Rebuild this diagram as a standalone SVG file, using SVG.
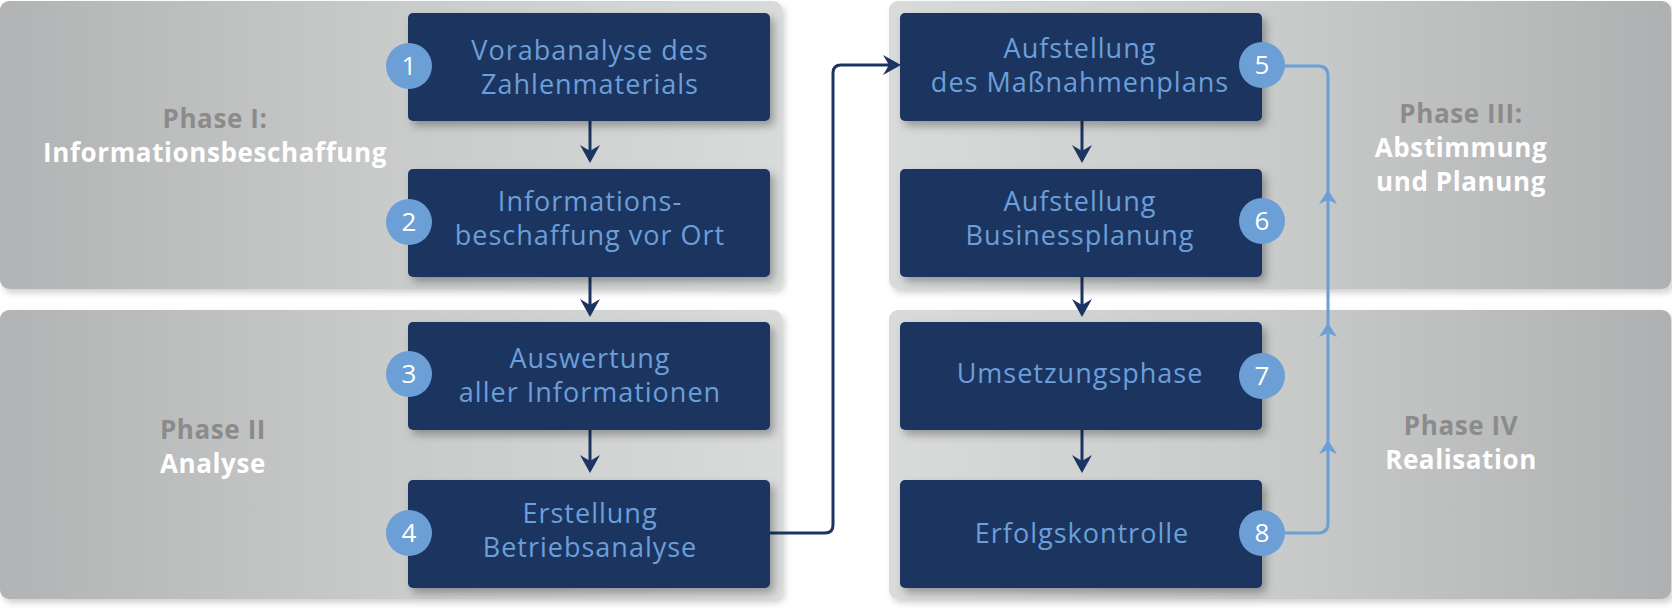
<svg xmlns="http://www.w3.org/2000/svg" width="1672" height="611" viewBox="0 0 1672 611">
<defs>
<linearGradient id="gL" x1="0" y1="0" x2="1" y2="0">
<stop offset="0" stop-color="#b2b3b4"/>
<stop offset="0.5" stop-color="#c9caca"/>
<stop offset="1" stop-color="#d9dada"/>
</linearGradient>
<linearGradient id="gR" x1="0" y1="0" x2="1" y2="0">
<stop offset="0" stop-color="#d9dada"/>
<stop offset="0.5" stop-color="#c9caca"/>
<stop offset="1" stop-color="#afb0b1"/>
</linearGradient>
<filter id="sh" x="-10%" y="-20%" width="130%" height="150%">
<feDropShadow dx="4" dy="5" stdDeviation="4" flood-color="#000" flood-opacity="0.3"/>
</filter>
<filter id="shl" x="-20%" y="-20%" width="140%" height="140%">
<feDropShadow dx="3" dy="4" stdDeviation="3" flood-color="#000" flood-opacity="0.18"/>
</filter>
<marker id="ah" markerUnits="userSpaceOnUse" markerWidth="30" markerHeight="30" refX="0" refY="0" orient="auto" overflow="visible">
<path d="M8,0 L-10,-10 L-4,0 L-10,10 Z" fill="#1c3461"/>
</marker>
<path id="bup" d="M0,0 L-9,14 L0,10 L9,14 Z"/>
</defs>
<style>
.panel{filter:url(#shl)}
.box{fill:#1c3461;filter:url(#sh)}
.btxt{font-family:"Open Sans","Noto Sans",sans-serif;font-size:27px;fill:#6b9fd9;text-anchor:middle;letter-spacing:1px}
.circ{fill:#6b9fd6}
.num{font-family:"Open Sans","Noto Sans",sans-serif;font-size:26px;fill:#ffffff;text-anchor:middle}
.ph{font-family:"Open Sans","Noto Sans",sans-serif;font-size:26px;font-weight:bold;text-anchor:middle;letter-spacing:0.6px}
.pg{fill:#8b8b8b}
.pw{fill:#ffffff}
.con{fill:none;stroke:#1c3461;stroke-width:3;marker-end:url(#ah)}
.blue{fill:none;stroke:#6b9fd8;stroke-width:3}
.bah{fill:#6b9fd8}
</style>

<g id="phase1">
<rect class="panel" x="0" y="1" width="782" height="288" rx="9" fill="url(#gL)"/>
<text class="ph pg" x="215" y="128">Phase I:</text>
<text class="ph pw" x="215" y="162">Informationsbeschaffung</text>
</g>
<g id="phase2">
<rect class="panel" x="0" y="310" width="782" height="289" rx="9" fill="url(#gL)"/>
<text class="ph pg" x="213" y="439">Phase II</text>
<text class="ph pw" x="213" y="473">Analyse</text>
</g>
<g id="phase3">
<rect class="panel" x="889" y="1" width="782" height="288" rx="9" fill="url(#gR)"/>
<text class="ph pg" x="1461" y="123">Phase III:</text>
<text class="ph pw" x="1461" y="157">Abstimmung</text>
<text class="ph pw" x="1461" y="191">und Planung</text>
</g>
<g id="phase4">
<rect class="panel" x="889" y="310" width="782" height="289" rx="9" fill="url(#gR)"/>
<text class="ph pg" x="1461" y="435">Phase IV</text>
<text class="ph pw" x="1461" y="469">Realisation</text>
</g>

<g id="connectors">
<path class="con" d="M590,121 V155"/>
<path class="con" d="M590,277 V309"/>
<path class="con" d="M590,430 V465"/>
<path class="con" d="M770,533 H825 Q833,533 833,525 V73 Q833,65 841,65 H893"/>
<path class="con" d="M1082,121 V155"/>
<path class="con" d="M1082,277 V309"/>
<path class="con" d="M1082,430 V465"/>
<path class="blue" d="M1262,533 H1318 Q1328,533 1328,523 V76 Q1328,66 1318,66 H1262"/>
<use href="#bup" class="bah" x="1328" y="190"/>
<use href="#bup" class="bah" x="1328" y="323"/>
<use href="#bup" class="bah" x="1328" y="440"/>
</g>

<g id="n1">
<rect class="box" x="408" y="13" width="362" height="108" rx="5"/>
<text class="btxt" x="590" y="60">Vorabanalyse des</text>
<text class="btxt" x="590" y="94">Zahlenmaterials</text>
<circle class="circ" cx="409" cy="66" r="23"/>
<text class="num" x="409" y="75">1</text>
</g>
<g id="n2">
<rect class="box" x="408" y="169" width="362" height="108" rx="5"/>
<text class="btxt" x="590" y="211">Informations-</text>
<text class="btxt" x="590" y="245">beschaffung vor Ort</text>
<circle class="circ" cx="409" cy="222" r="23"/>
<text class="num" x="409" y="231">2</text>
</g>
<g id="n3">
<rect class="box" x="408" y="322" width="362" height="108" rx="5"/>
<text class="btxt" x="590" y="368">Auswertung</text>
<text class="btxt" x="590" y="402">aller Informationen</text>
<circle class="circ" cx="409" cy="374" r="23"/>
<text class="num" x="409" y="383">3</text>
</g>
<g id="n4">
<rect class="box" x="408" y="480" width="362" height="108" rx="5"/>
<text class="btxt" x="590" y="523">Erstellung</text>
<text class="btxt" x="590" y="557">Betriebsanalyse</text>
<circle class="circ" cx="409" cy="533" r="23"/>
<text class="num" x="409" y="542">4</text>
</g>
<g id="n5">
<rect class="box" x="900" y="13" width="362" height="108" rx="5"/>
<text class="btxt" x="1080" y="58">Aufstellung</text>
<text class="btxt" x="1080" y="92">des Maßnahmenplans</text>
<circle class="circ" cx="1262" cy="65" r="23"/>
<text class="num" x="1262" y="74">5</text>
</g>
<g id="n6">
<rect class="box" x="900" y="169" width="362" height="108" rx="5"/>
<text class="btxt" x="1080" y="211">Aufstellung</text>
<text class="btxt" x="1080" y="245">Businessplanung</text>
<circle class="circ" cx="1262" cy="221" r="23"/>
<text class="num" x="1262" y="230">6</text>
</g>
<g id="n7">
<rect class="box" x="900" y="322" width="362" height="108" rx="5"/>
<text class="btxt" x="1080" y="383">Umsetzungsphase</text>
<circle class="circ" cx="1262" cy="376" r="23"/>
<text class="num" x="1262" y="385">7</text>
</g>
<g id="n8">
<rect class="box" x="900" y="480" width="362" height="108" rx="5"/>
<text class="btxt" x="1082" y="543">Erfolgskontrolle</text>
<circle class="circ" cx="1262" cy="533" r="23"/>
<text class="num" x="1262" y="542">8</text>
</g>
</svg>
